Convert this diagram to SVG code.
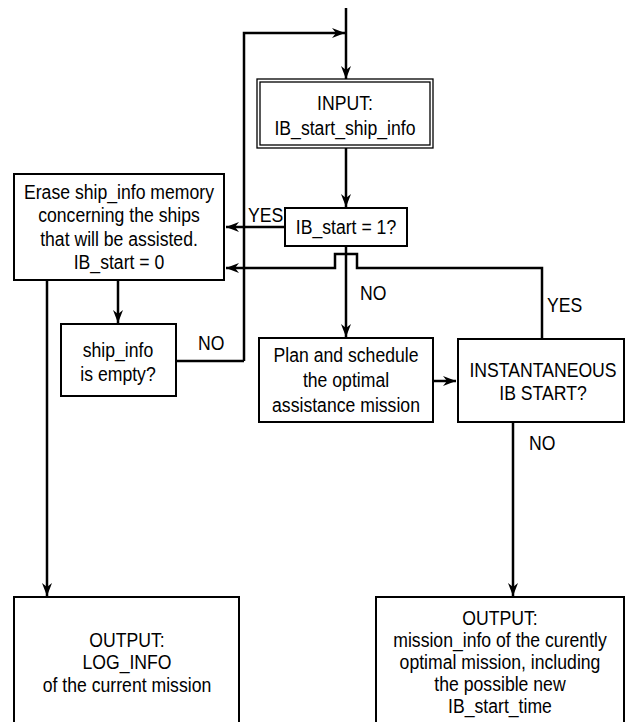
<svg xmlns="http://www.w3.org/2000/svg" width="626" height="722" viewBox="0 0 626 722">
<style>
.box{fill:#fff;stroke:#000;stroke-width:2}
.dbl{fill:none;stroke:#000;stroke-width:1.3}
.t{font-family:"Liberation Sans",Arial,sans-serif;font-size:21px;fill:#000;text-anchor:middle}
.l{font-family:"Liberation Sans",Arial,sans-serif;font-size:21px;fill:#000}
.c{fill:none;stroke:#000;stroke-width:2.5}
.ca{fill:none;stroke:#000;stroke-width:2.5;marker-end:url(#ah)}
</style>
<defs>
<marker id="ah" markerWidth="14" markerHeight="12" viewBox="-13 -6 14 12" refX="0" refY="0" orient="auto" markerUnits="userSpaceOnUse">
<path d="M0,0 L-13,-5 L-9,0 L-13,5 Z" fill="#000"/>
</marker>
</defs>
<g id="connectors">
<path class="ca" d="M346,8 V79"/>
<path class="ca" d="M244,361 V33 H345"/>
<path class="ca" d="M346,148 V207"/>
<path class="ca" d="M285,227 H226"/>
<path class="ca" d="M542,339 V268 H357 V254 H335 V268 H226"/>
<path class="ca" d="M346,246 V337"/>
<path class="ca" d="M118,280 V323"/>
<path class="c" d="M176,361 H244"/>
<path class="ca" d="M47,280 V596"/>
<path class="ca" d="M433,381 H456"/>
<path class="ca" d="M513,422 V596"/>
</g>
<g id="labels">
<text class="l" transform="translate(248 222) scale(0.84 1)">YES</text>
<text class="l" transform="translate(360 300) scale(0.84 1)">NO</text>
<text class="l" transform="translate(547 312) scale(0.84 1)">YES</text>
<text class="l" transform="translate(198 350) scale(0.84 1)">NO</text>
<text class="l" transform="translate(529 450) scale(0.84 1)">NO</text>
</g>
<g id="input">
<rect class="dbl" x="257" y="79" width="176" height="69"/>
<rect class="dbl" x="260" y="82" width="170" height="63"/>
<g transform="translate(345 0) scale(0.84 1)">
<text class="t" x="0" y="110">INPUT:</text>
<text class="t" x="0" y="135">IB_start_ship_info</text>
</g>
</g>
<g id="decision-ibstart">
<rect class="box" x="285" y="208" width="122" height="38"/>
<text class="t" transform="translate(346 234) scale(0.84 1)">IB_start = 1?</text>
</g>
<g id="erase">
<rect class="box" x="14" y="174" width="210" height="106"/>
<g transform="translate(119 0) scale(0.84 1)">
<text class="t" x="0" y="199">Erase ship_info memory</text>
<text class="t" x="0" y="222">concerning the ships</text>
<text class="t" x="0" y="246">that will be assisted.</text>
<text class="t" x="0" y="269">IB_start = 0</text>
</g>
</g>
<g id="shipinfo-empty">
<rect class="box" x="61" y="324" width="115" height="72"/>
<g transform="translate(118 0) scale(0.84 1)">
<text class="t" x="0" y="357">ship_info</text>
<text class="t" x="0" y="381">is empty?</text>
</g>
</g>
<g id="plan">
<rect class="box" x="259" y="338" width="174" height="84"/>
<g transform="translate(346 0) scale(0.84 1)">
<text class="t" x="0" y="362">Plan and schedule</text>
<text class="t" x="0" y="387">the optimal</text>
<text class="t" x="0" y="412">assistance mission</text>
</g>
</g>
<g id="instantaneous">
<rect class="box" x="458" y="339" width="166" height="83"/>
<g transform="translate(543 0) scale(0.84 1)">
<text class="t" x="0" y="377">INSTANTANEOUS</text>
<text class="t" x="0" y="400">IB START?</text>
</g>
</g>
<g id="output-log">
<rect class="box" x="14" y="597" width="225" height="140"/>
<g transform="translate(127 0) scale(0.84 1)">
<text class="t" x="0" y="647">OUTPUT:</text>
<text class="t" x="0" y="669">LOG_INFO</text>
<text class="t" x="0" y="692">of the current mission</text>
</g>
</g>
<g id="output-mission">
<rect class="box" x="376" y="597" width="248" height="140"/>
<g transform="translate(500 0) scale(0.84 1)">
<text class="t" x="0" y="625">OUTPUT:</text>
<text class="t" x="0" y="647">mission_info of the curently</text>
<text class="t" x="0" y="669">optimal mission, including</text>
<text class="t" x="0" y="691">the possible new</text>
<text class="t" x="0" y="713">IB_start_time</text>
</g>
</g>
</svg>
